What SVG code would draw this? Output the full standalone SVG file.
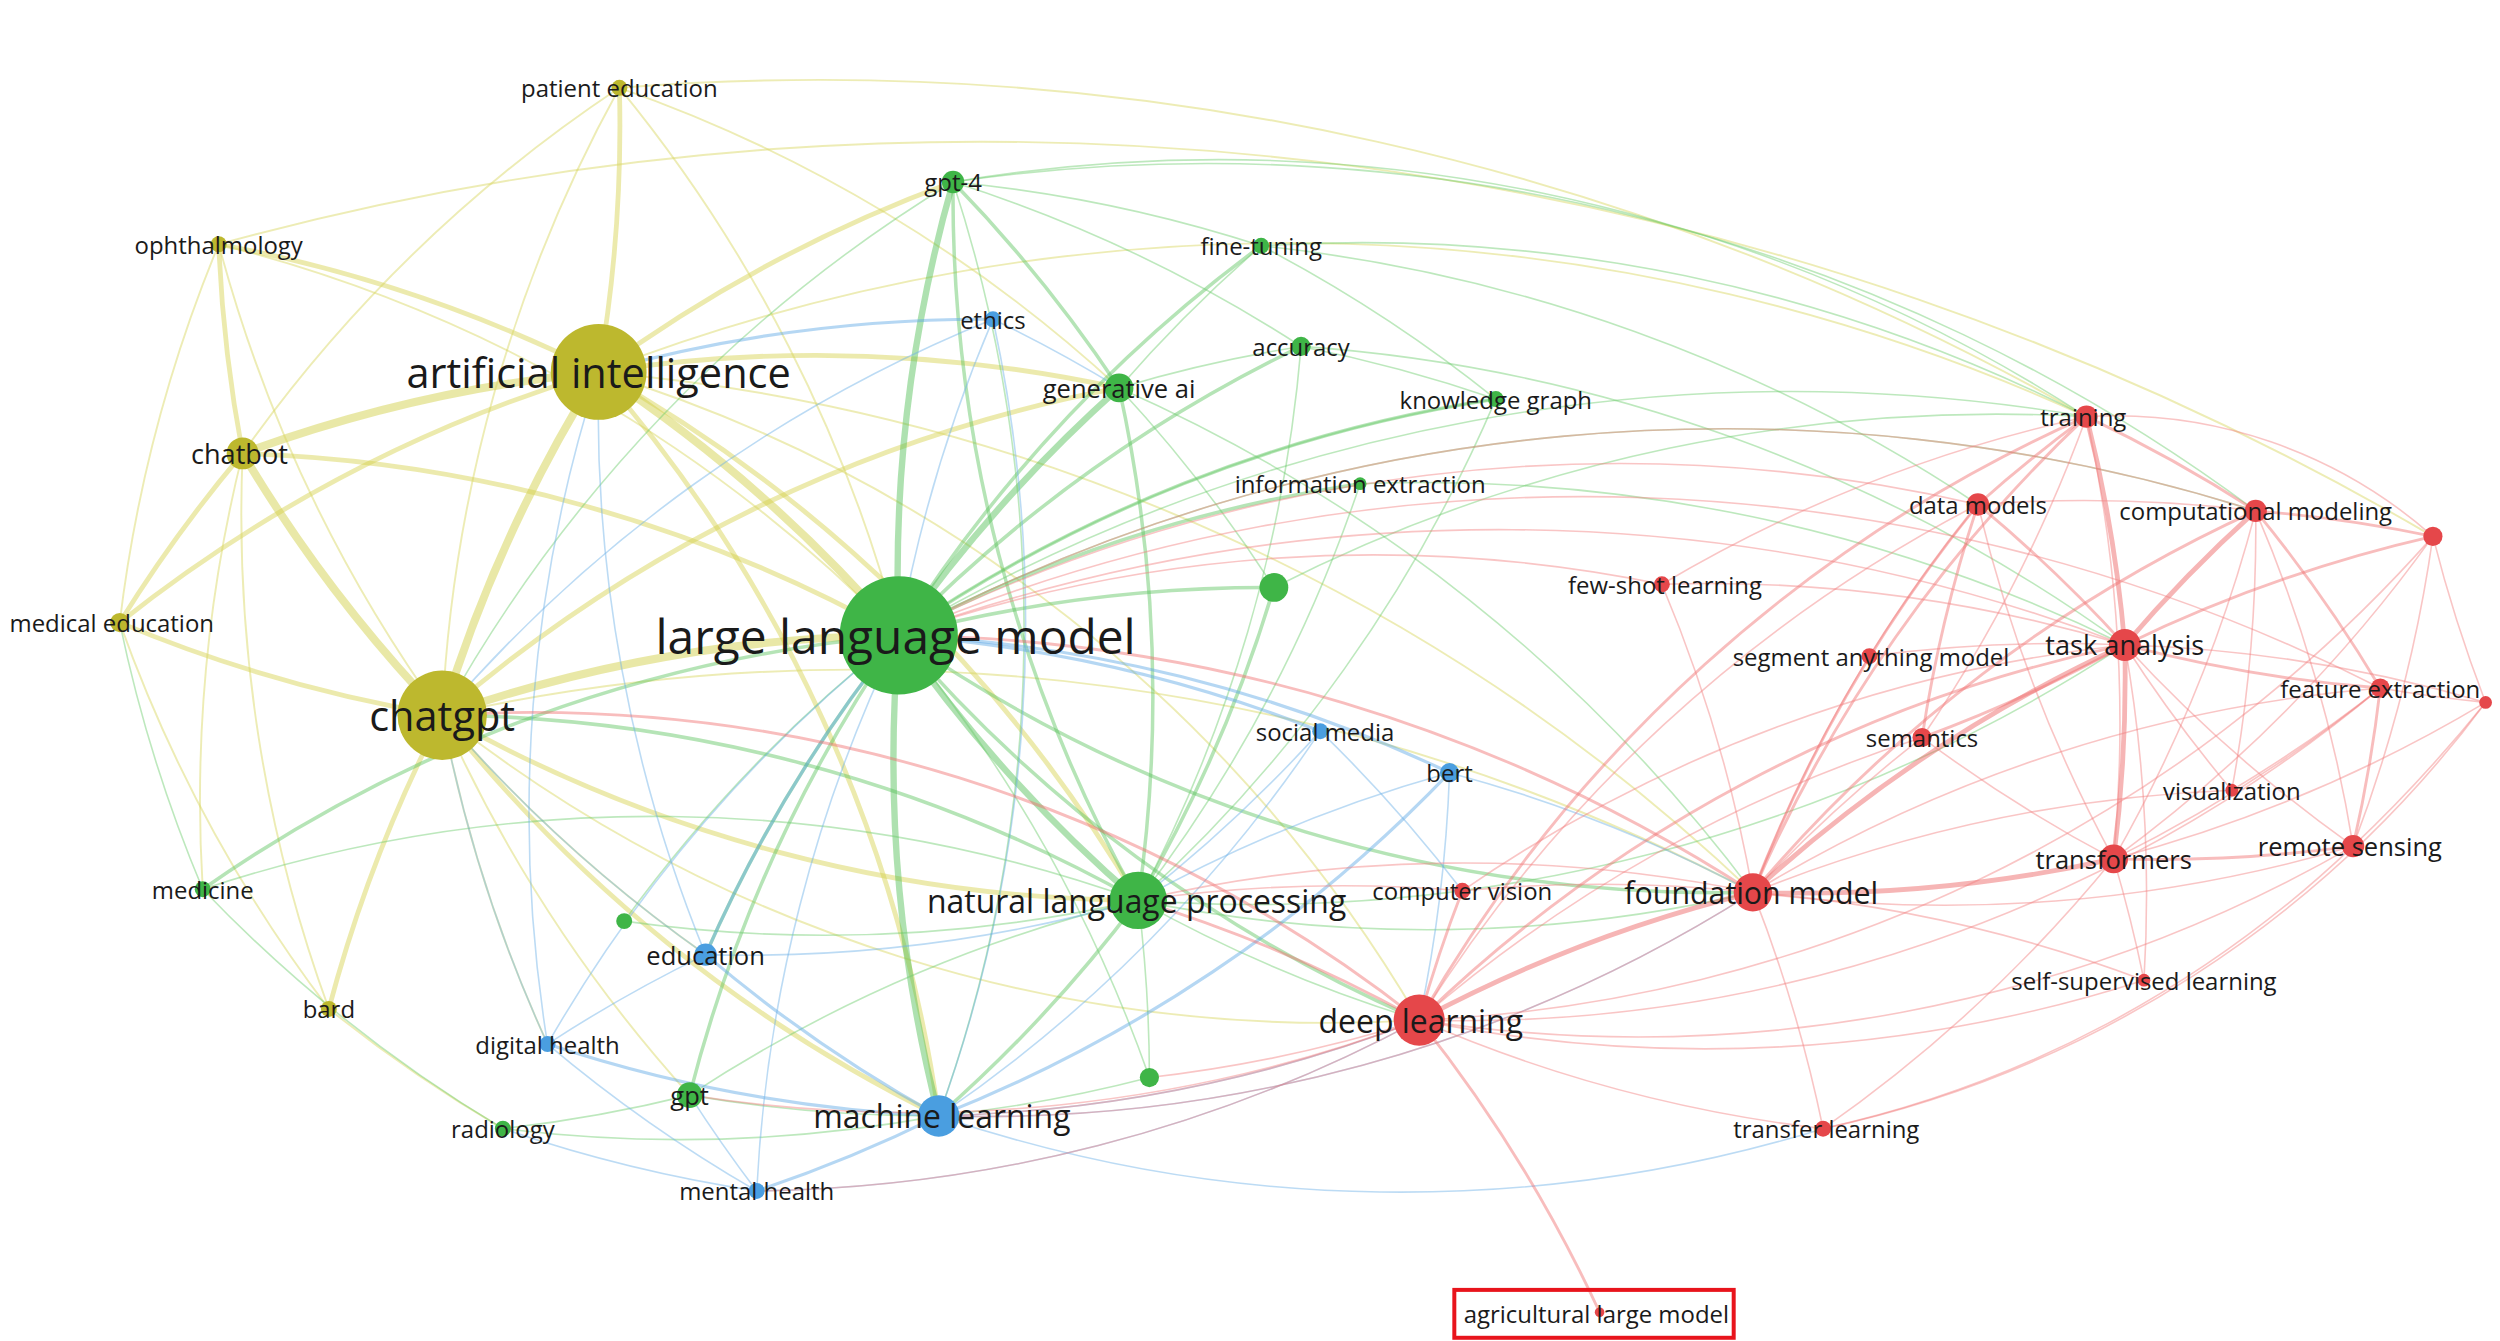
<svg xmlns="http://www.w3.org/2000/svg" width="2500" height="1341" viewBox="0 0 2500 1341">
<style>
path{fill:none;stroke-opacity:.45;stroke-linecap:round}
.y3{stroke:#cfcb3c;stroke-width:5}.y2{stroke:#d4d04a;stroke-width:3}.y1{stroke:#d8d45a;stroke-width:1.2}
.g3{stroke:#4cbd50;stroke-width:4}.g2{stroke:#5cc45e;stroke-width:2.2}.g1{stroke:#6ccc6c;stroke-width:1}
.b2{stroke:#5aa6e4;stroke-width:2}.b1{stroke:#6aafe6;stroke-width:1}
.r3{stroke:#ec5a5a;stroke-width:3}.r2{stroke:#f06c6c;stroke-width:1.8}.r1{stroke:#f27e7e;stroke-width:1}
.y{fill:#bdb82e}.g{fill:#3fb547}.b{fill:#4a9ee0}.r{fill:#e5474a}
text{font-family:"Open Sans","Noto Sans",sans-serif;fill:#1a1a1a;text-anchor:middle;dominant-baseline:central;font-size:15px}
</style>
<rect width="2500" height="1341" fill="#fff"/>
<g transform="scale(1.5964)">
<g id="connectors">
<path class="y3" d="M375 233 A900 900 0 0 0 277 448"/>
<path class="y3" d="M375 233 A900 900 0 0 1 563 398"/>
<path class="y3" d="M277 448 A900 900 0 0 1 563 398"/>
<path class="y3" d="M375 233 A900 900 0 0 0 152 284"/>
<path class="y3" d="M152 284 A900 900 0 0 0 277 448"/>
<path class="y2" d="M375 233 A900 900 0 0 1 713 564"/>
<path class="y2" d="M277 448 A900 900 0 0 0 713 564"/>
<path class="y2" d="M152 284 A900 900 0 0 1 563 398"/>
<path class="y2" d="M375 233 A900 900 0 0 0 75 390"/>
<path class="y2" d="M277 448 A900 900 0 0 1 75 390"/>
<path class="y2" d="M375 233 A900 900 0 0 0 137 153"/>
<path class="y2" d="M152 284 A900 900 0 0 1 137 153"/>
<path class="y2" d="M375 233 A900 900 0 0 0 388 55"/>
<path class="y2" d="M277 448 A900 900 0 0 0 206 632"/>
<path class="y2" d="M152 284 A900 900 0 0 0 75 390"/>
<path class="y2" d="M375 233 A900 900 0 0 1 588 699"/>
<path class="y2" d="M277 448 A900 900 0 0 0 588 699"/>
<path class="y2" d="M375 233 A900 900 0 0 1 701 243"/>
<path class="y2" d="M277 448 A900 900 0 0 1 701 243"/>
<path class="y2" d="M375 233 A900 900 0 0 1 597 114"/>
<path class="y1" d="M388 55 A900 900 0 0 0 152 284"/>
<path class="y1" d="M388 55 A900 900 0 0 0 277 448"/>
<path class="y1" d="M388 55 A900 900 0 0 1 563 398"/>
<path class="y1" d="M137 153 A900 900 0 0 0 277 448"/>
<path class="y1" d="M137 153 A900 900 0 0 0 75 390"/>
<path class="y1" d="M388 55 A1600 1600 0 0 1 1307 261"/>
<path class="y1" d="M375 233 A1200 1200 0 0 1 1307 261"/>
<path class="y1" d="M277 448 A900 900 0 0 0 889 639"/>
<path class="y1" d="M375 233 A900 900 0 0 1 889 639"/>
<path class="y1" d="M152 284 A900 900 0 0 0 206 632"/>
<path class="y1" d="M75 390 A900 900 0 0 0 206 632"/>
<path class="y1" d="M152 284 A900 900 0 0 0 127 557"/>
<path class="y1" d="M206 632 A900 900 0 0 0 315 707"/>
<path class="y1" d="M277 448 A900 900 0 0 0 442 598"/>
<path class="y1" d="M277 448 A900 900 0 0 0 343 654"/>
<path class="y1" d="M277 448 A900 900 0 0 0 432 686"/>
<path class="y1" d="M375 233 A1200 1200 0 0 1 1098 559"/>
<path class="y1" d="M277 448 A1200 1200 0 0 1 1098 559"/>
<path class="y1" d="M137 153 A900 900 0 0 1 563 398"/>
<path class="y1" d="M388 55 A900 900 0 0 1 701 243"/>
<path class="y1" d="M137 153 A1800 1800 0 0 1 1524 336"/>
<path class="g3" d="M563 398 A900 900 0 0 0 713 564"/>
<path class="g3" d="M563 398 A900 900 0 0 0 588 699"/>
<path class="g3" d="M563 398 A900 900 0 0 1 701 243"/>
<path class="g3" d="M563 398 A900 900 0 0 1 597 114"/>
<path class="g2" d="M563 398 A900 900 0 0 1 798 368"/>
<path class="g2" d="M563 398 A900 900 0 0 1 815 217"/>
<path class="g2" d="M563 398 A900 900 0 0 1 790 154"/>
<path class="g2" d="M563 398 A900 900 0 0 0 432 686"/>
<path class="g2" d="M713 564 A900 900 0 0 1 588 699"/>
<path class="g2" d="M713 564 A900 900 0 0 0 701 243"/>
<path class="g2" d="M713 564 A900 900 0 0 0 798 368"/>
<path class="g2" d="M563 398 A900 900 0 0 0 889 639"/>
<path class="g2" d="M563 398 A900 900 0 0 0 1098 559"/>
<path class="g2" d="M597 114 A900 900 0 0 1 701 243"/>
<path class="g2" d="M563 398 A900 900 0 0 1 852 303"/>
<path class="g2" d="M563 398 A900 900 0 0 1 937 250"/>
<path class="g2" d="M713 564 A900 900 0 0 1 597 114"/>
<path class="g2" d="M563 398 A900 900 0 0 0 442 598"/>
<path class="g2" d="M563 398 A900 900 0 0 0 127 557"/>
<path class="g2" d="M713 564 A900 900 0 0 0 277 448"/>
<path class="g1" d="M597 114 A900 900 0 0 1 790 154"/>
<path class="g1" d="M597 114 A900 900 0 0 1 815 217"/>
<path class="g1" d="M597 114 A1000 1000 0 0 1 1307 261"/>
<path class="g1" d="M790 154 A1000 1000 0 0 1 1307 261"/>
<path class="g1" d="M790 154 A900 900 0 0 1 937 250"/>
<path class="g1" d="M815 217 A900 900 0 0 1 937 250"/>
<path class="g1" d="M701 243 A900 900 0 0 1 815 217"/>
<path class="g1" d="M701 243 A900 900 0 0 1 790 154"/>
<path class="g1" d="M815 217 A900 900 0 0 1 713 564"/>
<path class="g1" d="M852 303 A900 900 0 0 1 713 564"/>
<path class="g1" d="M937 250 A900 900 0 0 0 563 398"/>
<path class="g1" d="M937 250 A900 900 0 0 1 713 564"/>
<path class="g1" d="M798 368 A900 900 0 0 0 701 243"/>
<path class="g1" d="M127 557 A900 900 0 0 0 315 707"/>
<path class="g1" d="M127 557 A900 900 0 0 1 75 390"/>
<path class="g1" d="M315 707 A900 900 0 0 0 432 686"/>
<path class="g1" d="M432 686 A900 900 0 0 0 588 699"/>
<path class="g1" d="M432 686 A900 900 0 0 1 713 564"/>
<path class="g1" d="M391 577 A900 900 0 0 1 563 398"/>
<path class="g1" d="M391 577 A900 900 0 0 0 713 564"/>
<path class="g1" d="M720 675 A900 900 0 0 0 563 398"/>
<path class="g1" d="M720 675 A900 900 0 0 0 713 564"/>
<path class="g1" d="M720 675 A900 900 0 0 1 588 699"/>
<path class="g1" d="M597 114 A1100 1100 0 0 1 1413 320"/>
<path class="g1" d="M790 154 A1000 1000 0 0 1 1239 316"/>
<path class="g1" d="M815 217 A1000 1000 0 0 1 1331 404"/>
<path class="g1" d="M701 243 A1000 1000 0 0 1 1098 559"/>
<path class="g1" d="M852 303 A1000 1000 0 0 1 1331 404"/>
<path class="g1" d="M798 368 A1000 1000 0 0 1 1307 261"/>
<path class="g1" d="M713 564 A1000 1000 0 0 0 1331 404"/>
<path class="g1" d="M563 398 A1100 1100 0 0 1 1307 261"/>
<path class="g1" d="M563 398 A1100 1100 0 0 1 1413 320"/>
<path class="g1" d="M713 564 A900 900 0 0 0 889 639"/>
<path class="g1" d="M713 564 A900 900 0 0 0 1098 559"/>
<path class="g1" d="M597 114 A900 900 0 0 0 277 448"/>
<path class="g1" d="M597 114 A900 900 0 0 1 588 699"/>
<path class="g1" d="M315 707 A900 900 0 0 0 588 699"/>
<path class="g1" d="M127 557 A900 900 0 0 1 713 564"/>
<path class="b2" d="M588 699 A900 900 0 0 1 442 598"/>
<path class="b2" d="M588 699 A900 900 0 0 1 474 746"/>
<path class="b2" d="M588 699 A900 900 0 0 1 343 654"/>
<path class="b2" d="M622 200 A900 900 0 0 0 375 233"/>
<path class="b2" d="M442 598 A900 900 0 0 1 563 398"/>
<path class="b2" d="M908 484 A900 900 0 0 0 563 398"/>
<path class="b2" d="M827 458 A900 900 0 0 0 563 398"/>
<path class="b2" d="M588 699 A900 900 0 0 0 908 484"/>
<path class="b1" d="M622 200 A900 900 0 0 0 563 398"/>
<path class="b1" d="M622 200 A900 900 0 0 1 588 699"/>
<path class="b1" d="M622 200 A900 900 0 0 0 277 448"/>
<path class="b1" d="M622 200 A900 900 0 0 1 701 243"/>
<path class="b1" d="M827 458 A900 900 0 0 1 588 699"/>
<path class="b1" d="M908 484 A900 900 0 0 0 713 564"/>
<path class="b1" d="M827 458 A900 900 0 0 1 713 564"/>
<path class="b1" d="M442 598 A900 900 0 0 1 277 448"/>
<path class="b1" d="M442 598 A900 900 0 0 1 375 233"/>
<path class="b1" d="M343 654 A900 900 0 0 1 277 448"/>
<path class="b1" d="M343 654 A900 900 0 0 1 563 398"/>
<path class="b1" d="M343 654 A900 900 0 0 0 474 746"/>
<path class="b1" d="M474 746 A900 900 0 0 1 563 398"/>
<path class="b1" d="M474 746 A900 900 0 0 1 432 686"/>
<path class="b1" d="M474 746 A900 900 0 0 1 315 707"/>
<path class="b1" d="M442 598 A900 900 0 0 0 343 654"/>
<path class="b1" d="M908 484 A900 900 0 0 1 889 639"/>
<path class="b1" d="M908 484 A900 900 0 0 1 1098 559"/>
<path class="b1" d="M827 458 A900 900 0 0 1 916 558"/>
<path class="b1" d="M588 699 A900 900 0 0 0 889 639"/>
<path class="b1" d="M588 699 A900 900 0 0 0 1098 559"/>
<path class="b1" d="M474 746 A900 900 0 0 0 889 639"/>
<path class="b1" d="M588 699 A900 900 0 0 0 1142 707"/>
<path class="b1" d="M343 654 A900 900 0 0 1 375 233"/>
<path class="b1" d="M442 598 A900 900 0 0 0 713 564"/>
<path class="r3" d="M889 639 A900 900 0 0 1 1098 559"/>
<path class="r3" d="M1098 559 A900 900 0 0 1 1331 404"/>
<path class="r3" d="M1331 404 A900 900 0 0 0 1307 261"/>
<path class="r3" d="M1331 404 A900 900 0 0 1 1413 320"/>
<path class="r3" d="M1098 559 A900 900 0 0 0 1324 538"/>
<path class="r3" d="M1331 404 A900 900 0 0 1 1324 538"/>
<path class="r2" d="M889 639 A900 900 0 0 1 1331 404"/>
<path class="r2" d="M889 639 A900 900 0 0 1 916 558"/>
<path class="r2" d="M889 639 A900 900 0 0 1 1307 261"/>
<path class="r2" d="M1098 559 A900 900 0 0 1 1307 261"/>
<path class="r2" d="M1098 559 A900 900 0 0 1 1239 316"/>
<path class="r2" d="M1098 559 A900 900 0 0 1 1413 320"/>
<path class="r2" d="M1331 404 A900 900 0 0 0 1491 431"/>
<path class="r2" d="M1331 404 A900 900 0 0 0 1239 316"/>
<path class="r2" d="M1331 404 A900 900 0 0 1 1524 336"/>
<path class="r2" d="M1413 320 A900 900 0 0 1 1524 336"/>
<path class="r2" d="M1413 320 A900 900 0 0 1 1491 431"/>
<path class="r2" d="M1324 538 A900 900 0 0 0 1474 530"/>
<path class="r2" d="M1491 431 A900 900 0 0 1 1474 530"/>
<path class="r2" d="M1331 404 A900 900 0 0 1 1204 462"/>
<path class="r2" d="M1204 462 A900 900 0 0 1 1239 316"/>
<path class="r2" d="M1307 261 A900 900 0 0 0 1239 316"/>
<path class="r2" d="M1307 261 A900 900 0 0 1 1413 320"/>
<path class="r2" d="M889 639 A900 900 0 0 0 713 564"/>
<path class="r2" d="M1098 559 A1000 1000 0 0 0 563 398"/>
<path class="r2" d="M889 639 A900 900 0 0 1 1002 822"/>
<path class="r2" d="M889 639 A900 900 0 0 0 277 448"/>
<path class="r1" d="M1041 366 A900 900 0 0 1 1331 404"/>
<path class="r1" d="M1041 366 A900 900 0 0 0 563 398"/>
<path class="r1" d="M1041 366 A900 900 0 0 1 1098 559"/>
<path class="r1" d="M1041 366 A900 900 0 0 1 1307 261"/>
<path class="r1" d="M1171 411 A900 900 0 0 1 1331 404"/>
<path class="r1" d="M1171 411 A900 900 0 0 0 1098 559"/>
<path class="r1" d="M1171 411 A900 900 0 0 1 1239 316"/>
<path class="r1" d="M1204 462 A900 900 0 0 0 1098 559"/>
<path class="r1" d="M1204 462 A900 900 0 0 0 1324 538"/>
<path class="r1" d="M1398 495 A900 900 0 0 1 1331 404"/>
<path class="r1" d="M1398 495 A900 900 0 0 0 1413 320"/>
<path class="r1" d="M1398 495 A900 900 0 0 0 1491 431"/>
<path class="r1" d="M1474 530 A900 900 0 0 0 1524 336"/>
<path class="r1" d="M1474 530 A900 900 0 0 0 1413 320"/>
<path class="r1" d="M1557 440 A900 900 0 0 1 1491 431"/>
<path class="r1" d="M1557 440 A900 900 0 0 0 1331 404"/>
<path class="r1" d="M1557 440 A900 900 0 0 1 1524 336"/>
<path class="r1" d="M1557 440 A900 900 0 0 1 1324 538"/>
<path class="r1" d="M1557 440 A900 900 0 0 1 1474 530"/>
<path class="r1" d="M1307 261 A300 300 0 0 1 1524 336"/>
<path class="r1" d="M1343 614 A900 900 0 0 0 1324 538"/>
<path class="r1" d="M1343 614 A900 900 0 0 0 1098 559"/>
<path class="r1" d="M1343 614 A900 900 0 0 0 1331 404"/>
<path class="r1" d="M1343 614 A900 900 0 0 1 889 639"/>
<path class="r1" d="M1142 707 A900 900 0 0 1 889 639"/>
<path class="r1" d="M1142 707 A900 900 0 0 0 1098 559"/>
<path class="r1" d="M1142 707 A900 900 0 0 0 1324 538"/>
<path class="r1" d="M1142 707 A700 700 0 0 0 1474 530"/>
<path class="r1" d="M916 558 A900 900 0 0 1 1098 559"/>
<path class="r1" d="M916 558 A900 900 0 0 1 1331 404"/>
<path class="r1" d="M916 558 A900 900 0 0 0 713 564"/>
<path class="r1" d="M889 639 A900 900 0 0 1 1204 462"/>
<path class="r1" d="M889 639 A900 900 0 0 1 1239 316"/>
<path class="r1" d="M889 639 A900 900 0 0 0 1474 530"/>
<path class="r1" d="M889 639 A900 900 0 0 0 1491 431"/>
<path class="r1" d="M1098 559 A900 900 0 0 1 1491 431"/>
<path class="r1" d="M1098 559 A900 900 0 0 0 1474 530"/>
<path class="r1" d="M1098 559 A900 900 0 0 1 1398 495"/>
<path class="r1" d="M1324 538 A900 900 0 0 0 1413 320"/>
<path class="r1" d="M1324 538 A900 900 0 0 0 1307 261"/>
<path class="r1" d="M1324 538 A900 900 0 0 1 1239 316"/>
<path class="r1" d="M1324 538 A900 900 0 0 0 1491 431"/>
<path class="r1" d="M1474 530 A900 900 0 0 1 1331 404"/>
<path class="r1" d="M889 639 A900 900 0 0 1 588 699"/>
<path class="r1" d="M1098 559 A900 900 0 0 1 588 699"/>
<path class="r1" d="M1331 404 A1100 1100 0 0 0 563 398"/>
<path class="r1" d="M1413 320 A1100 1100 0 0 0 563 398"/>
<path class="r1" d="M1239 316 A1000 1000 0 0 0 563 398"/>
<path class="r1" d="M1491 431 A1100 1100 0 0 0 563 398"/>
<path class="r1" d="M889 639 A900 900 0 0 1 432 686"/>
<path class="r1" d="M1098 559 A900 900 0 0 0 713 564"/>
<path class="r1" d="M889 639 A900 900 0 0 1 720 675"/>
<path class="r1" d="M1524 336 A900 900 0 0 1 889 639"/>
<path class="r1" d="M1307 261 A900 900 0 0 1 1204 462"/>
<path class="r1" d="M1239 316 A900 900 0 0 1 1413 320"/>
<path class="r1" d="M1524 336 A900 900 0 0 1 1324 538"/>
<path class="r1" d="M889 639 A900 900 0 0 1 474 746"/>
<path class="r1" d="M1557 440 A700 700 0 0 1 1142 707"/>
</g>
<g id="n-ai"><circle class="y" cx="375" cy="233" r="30"/><text x="375" y="233" style="font-size:26px">artificial intelligence</text></g>
<g id="n-chatgpt"><circle class="y" cx="277" cy="448" r="28"/><text x="277" y="448" style="font-size:26px">chatgpt</text></g>
<g id="n-chatbot"><circle class="y" cx="152" cy="284" r="10"/><text x="150" y="284" style="font-size:17px">chatbot</text></g>
<g id="n-medical-education"><circle class="y" cx="75" cy="390" r="6"/><text x="70" y="390">medical education</text></g>
<g id="n-ophthalmology"><circle class="y" cx="137" cy="153" r="5"/><text x="137" y="153">ophthalmology</text></g>
<g id="n-patient-education"><circle class="y" cx="388" cy="55" r="5"/><text x="388" y="55">patient education</text></g>
<g id="n-bard"><circle class="y" cx="206" cy="632" r="5"/><text x="206" y="632">bard</text></g>
<g id="n-llm"><circle class="g" cx="563" cy="398" r="37"/><text x="561" y="398" style="font-size:30px">large language model</text></g>
<g id="n-nlp"><circle class="g" cx="713" cy="564" r="18"/><text x="712" y="564" style="font-size:20px">natural language processing</text></g>
<g id="n-gpt4"><circle class="g" cx="597" cy="114" r="7"/><text x="597" y="114">gpt-4</text></g>
<g id="n-fine-tuning"><circle class="g" cx="790" cy="154" r="5"/><text x="790" y="154">fine-tuning</text></g>
<g id="n-accuracy"><circle class="g" cx="815" cy="217" r="6"/><text x="815" y="217">accuracy</text></g>
<g id="n-generative-ai"><circle class="g" cx="701" cy="243" r="9"/><text x="701" y="243" style="font-size:16px">generative ai</text></g>
<g id="n-knowledge-graph"><circle class="g" cx="937" cy="250" r="5"/><text x="937" y="250">knowledge graph</text></g>
<g id="n-information-extraction"><circle class="g" cx="852" cy="303" r="4"/><text x="852" y="303">information extraction</text></g>
<g id="n-g1"><circle class="g" cx="798" cy="368" r="9"/></g>
<g id="n-medicine"><circle class="g" cx="127" cy="557" r="5"/><text x="127" y="557">medicine</text></g>
<g id="n-g2"><circle class="g" cx="391" cy="577" r="5"/></g>
<g id="n-gpt"><circle class="g" cx="432" cy="686" r="8"/><text x="432" y="686" style="font-size:16px">gpt</text></g>
<g id="n-radiology"><circle class="g" cx="315" cy="707" r="5"/><text x="315" y="707">radiology</text></g>
<g id="n-g3"><circle class="g" cx="720" cy="675" r="6"/></g>
<g id="n-ethics"><circle class="b" cx="622" cy="200" r="5"/><text x="622" y="200">ethics</text></g>
<g id="n-social-media"><circle class="b" cx="827" cy="458" r="5"/><text x="830" y="458">social media</text></g>
<g id="n-bert"><circle class="b" cx="908" cy="484" r="6"/><text x="908" y="484">bert</text></g>
<g id="n-education"><circle class="b" cx="442" cy="598" r="7"/><text x="442" y="598" style="font-size:16px">education</text></g>
<g id="n-digital-health"><circle class="b" cx="343" cy="654" r="5"/><text x="343" y="654">digital health</text></g>
<g id="n-ml"><circle class="b" cx="588" cy="699" r="13"/><text x="590" y="699" style="font-size:20px">machine learning</text></g>
<g id="n-mental-health"><circle class="b" cx="474" cy="746" r="5"/><text x="474" y="746">mental health</text></g>
<g id="n-training"><circle class="r" cx="1307" cy="261" r="7"/><text x="1305" y="261">training</text></g>
<g id="n-data-models"><circle class="r" cx="1239" cy="316" r="7"/><text x="1239" y="316">data models</text></g>
<g id="n-computational-modeling"><circle class="r" cx="1413" cy="320" r="7"/><text x="1413" y="320">computational modeling</text></g>
<g id="n-r1"><circle class="r" cx="1524" cy="336" r="6"/></g>
<g id="n-few-shot"><circle class="r" cx="1041" cy="366" r="5"/><text x="1043" y="366">few-shot learning</text></g>
<g id="n-sam"><circle class="r" cx="1171" cy="411" r="5"/><text x="1172" y="411">segment anything model</text></g>
<g id="n-task-analysis"><circle class="r" cx="1331" cy="404" r="10"/><text x="1331" y="404" style="font-size:17px">task analysis</text></g>
<g id="n-feature-extraction"><circle class="r" cx="1491" cy="431" r="6"/><text x="1491" y="431">feature extraction</text></g>
<g id="n-r2"><circle class="r" cx="1557" cy="440" r="4"/></g>
<g id="n-semantics"><circle class="r" cx="1204" cy="462" r="6"/><text x="1204" y="462">semantics</text></g>
<g id="n-visualization"><circle class="r" cx="1398" cy="495" r="4"/><text x="1398" y="495">visualization</text></g>
<g id="n-remote-sensing"><circle class="r" cx="1474" cy="530" r="7"/><text x="1472" y="530" style="font-size:16px">remote sensing</text></g>
<g id="n-transformers"><circle class="r" cx="1324" cy="538" r="9"/><text x="1324" y="538" style="font-size:16px">transformers</text></g>
<g id="n-foundation-model"><circle class="r" cx="1098" cy="559" r="12"/><text x="1097" y="559" style="font-size:19px">foundation model</text></g>
<g id="n-computer-vision"><circle class="r" cx="916" cy="558" r="5"/><text x="916" y="558">computer vision</text></g>
<g id="n-ssl"><circle class="r" cx="1343" cy="614" r="4"/><text x="1343" y="614">self-supervised learning</text></g>
<g id="n-deep-learning"><circle class="r" cx="889" cy="639" r="16"/><text x="890" y="639" style="font-size:20px">deep learning</text></g>
<g id="n-transfer-learning"><circle class="r" cx="1142" cy="707" r="5"/><text x="1144" y="707">transfer learning</text></g>
<g id="n-agri"><circle class="r" cx="1002" cy="822" r="3"/><text x="1000" y="823">agricultural large model</text><rect x="911" y="808" width="175" height="30" fill="none" stroke="#e8141c" stroke-width="2.5"/></g>
</g>
</svg>
